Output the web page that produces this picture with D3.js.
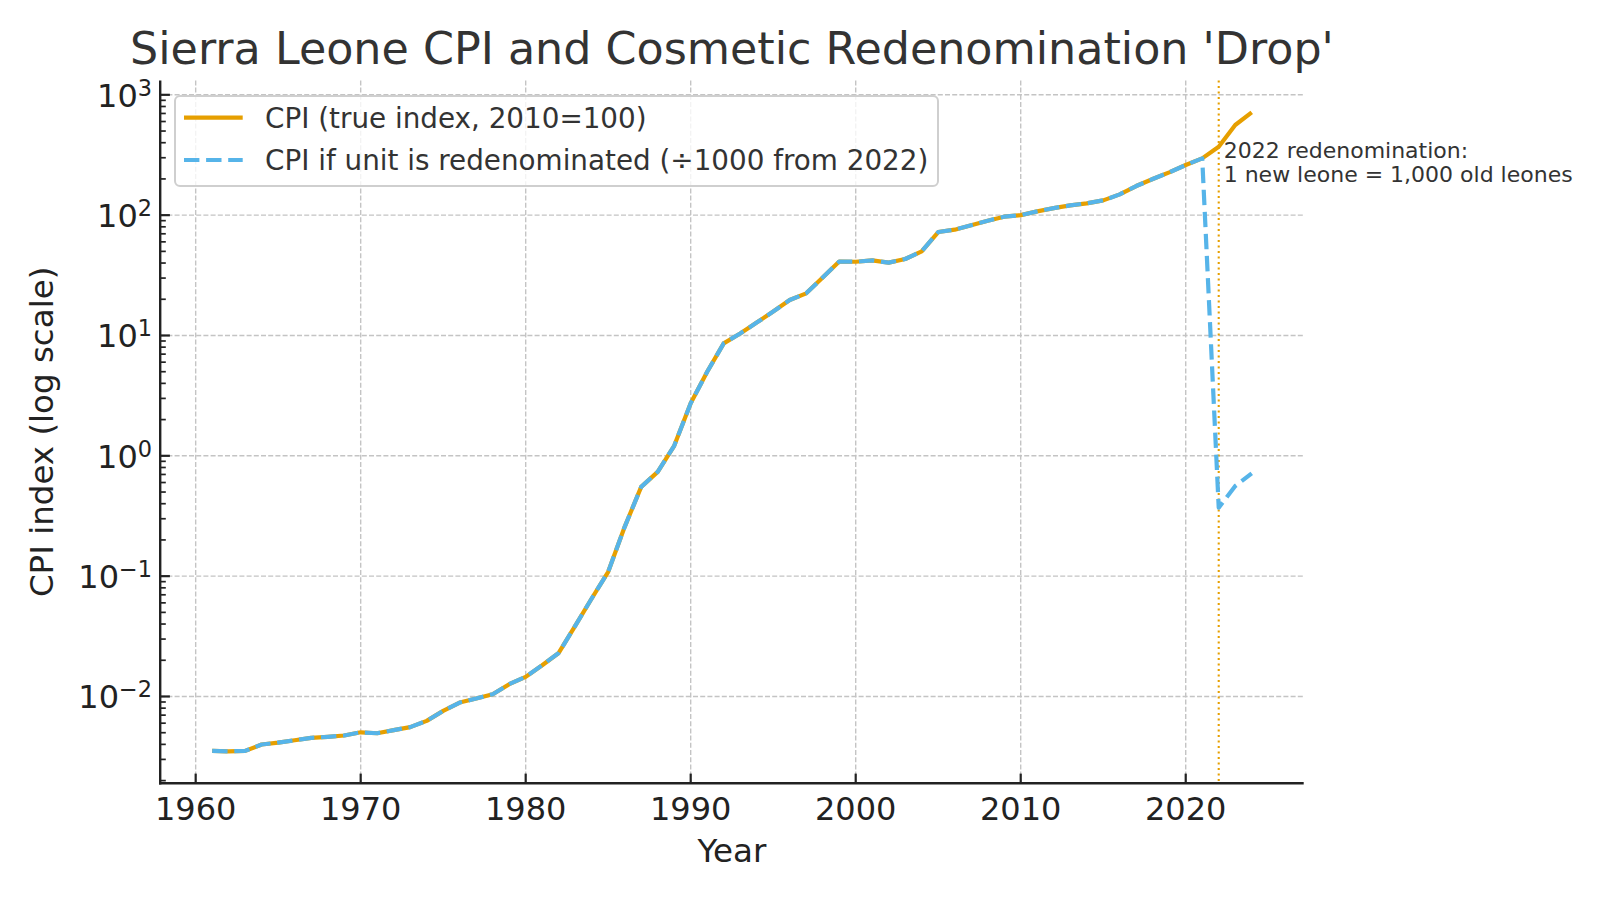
<!DOCTYPE html>
<html><head><meta charset="utf-8">
<script src="https://cdn.jsdelivr.net/npm/d3@7"></script>
<style>
body{margin:0;background:#fff}
svg{display:block}
text{font-family:"DejaVu Sans",sans-serif}
</style>
</head><body>
<svg id="chart" width="1600" height="900"></svg>
<script>
// ---------------- data ----------------
const years = [1961,1962,1963,1964,1965,1966,1967,1968,1969,1970,
  1971,1972,1973,1974,1975,1976,1977,1978,1979,1980,
  1981,1982,1983,1984,1985,1986,1987,1988,1989,1990,
  1991,1992,1993,1994,1995,1996,1997,1998,1999,2000,
  2001,2002,2003,2004,2005,2006,2007,2008,2009,2010,
  2011,2012,2013,2014,2015,2016,2017,2018,2019,2020,
  2021,2022,2023,2024];
const cpiTrue = [0.00353,0.00350,0.00353,0.00399,0.00414,0.00433,0.00453,0.00462,0.00474,0.00504,
  0.00495,0.00525,0.00556,0.00627,0.00759,0.00891,0.00962,0.01045,0.01265,0.01456,
  0.0182,0.0230,0.0386,0.0652,0.1086,0.257,0.552,0.736,1.21,2.73,
  4.99,8.6,10.4,12.8,15.8,19.7,22.4,30.3,41.2,41.0,
  42.1,40.3,43.2,50.0,72.4,75.7,82.3,89.9,97.1,100,
  107.5,114.5,120.6,125.3,132.7,148.8,174.5,199.6,226.8,260.9,
  296.5,370.6,561,715];
const cpiRedenominated = [0.00353,0.00350,0.00353,0.00399,0.00414,0.00433,0.00453,0.00462,0.00474,0.00504,
  0.00495,0.00525,0.00556,0.00627,0.00759,0.00891,0.00962,0.01045,0.01265,0.01456,
  0.0182,0.0230,0.0386,0.0652,0.1086,0.257,0.552,0.736,1.21,2.73,
  4.99,8.6,10.4,12.8,15.8,19.7,22.4,30.3,41.2,41.0,
  42.1,40.3,43.2,50.0,72.4,75.7,82.3,89.9,97.1,100,
  107.5,114.5,120.6,125.3,132.7,148.8,174.5,199.6,226.8,260.9,
  296.5,0.3706,0.561,0.715];
const xTickValues = [1960,1970,1980,1990,2000,2010,2020];
const yTickExponents = [-2,-1,0,1,2,3];
const titleText = "Sierra Leone CPI and Cosmetic Redenomination 'Drop'";
const xLabelText = "Year";
const yLabelText = "CPI index (log scale)";
const legendLabels = ["CPI (true index, 2010=100)", "CPI if unit is redenominated (÷1000 from 2022)"];
const redenomYear = 2022;
const annotationX = 2022.3;
const annotationY = 296;
const annotationLines = ["2022 redenomination:", "1 new leone = 1,000 old leones"];

// ---------------- layout ----------------
const orange = "#E69F00", blue = "#56B4E9";
const axL = 160.2, axR = 1303.7, axT = 80.4, axB = 783.3;
const svg = d3.select("#chart");

const xExt = d3.extent(years);
const xPad = (xExt[1]-xExt[0])*0.05;
const x = d3.scaleLinear().domain([xExt[0]-xPad, xExt[1]+xPad]).range([axL, axR]);

const allVals = cpiTrue.concat(cpiRedenominated);
const lmin = Math.log10(d3.min(allVals)), lmax = Math.log10(d3.max(allVals));
const lPad = (lmax-lmin)*0.05;
const y = d3.scaleLog().domain([Math.pow(10,lmin-lPad), Math.pow(10,lmax+lPad)]).range([axB, axT]);

// grid
const grid = svg.append("g");
xTickValues.forEach(v=>{
  grid.append("line").attr("x1",x(v)).attr("x2",x(v)).attr("y1",axT).attr("y2",axB)
    .attr("stroke","#c4c4c4").attr("stroke-width",1.4).attr("stroke-dasharray","5,2.2");
});
yTickExponents.forEach(e=>{
  const v = Math.pow(10,e);
  grid.append("line").attr("x1",axL).attr("x2",axR).attr("y1",y(v)).attr("y2",y(v))
    .attr("stroke","#c4c4c4").attr("stroke-width",1.4).attr("stroke-dasharray","5,2.2");
});

// redenomination vertical
svg.append("line").attr("x1",x(redenomYear)).attr("x2",x(redenomYear)).attr("y1",axT).attr("y2",axB)
  .attr("stroke",orange).attr("stroke-width",2.1).attr("stroke-dasharray","2.1,3.4");

// lines
const lineGen = d3.line().x(d=>x(d[0])).y(d=>y(d[1]));
svg.append("path").datum(years.map((yr,i)=>[yr,cpiTrue[i]])).attr("d",lineGen)
  .attr("fill","none").attr("stroke",orange).attr("stroke-width",4.2).attr("stroke-linejoin","round");
svg.append("path").datum(years.map((yr,i)=>[yr,cpiRedenominated[i]])).attr("d",lineGen)
  .attr("fill","none").attr("stroke",blue).attr("stroke-width",4.2).attr("stroke-linejoin","round")
  .attr("stroke-dasharray","15.4,6.7");

// spines
const axisCol = "#222";
svg.append("line").attr("x1",axL).attr("x2",axL).attr("y1",axT).attr("y2",axB+1.2).attr("stroke",axisCol).attr("stroke-width",2.4);
svg.append("line").attr("x1",axL-1.2).attr("x2",axR).attr("y1",axB).attr("y2",axB).attr("stroke",axisCol).attr("stroke-width",2.4);

// x ticks
xTickValues.forEach(v=>{
  svg.append("line").attr("x1",x(v)).attr("x2",x(v)).attr("y1",axB).attr("y2",axB-9.7).attr("stroke",axisCol).attr("stroke-width",2.2);
  svg.append("text").attr("x",x(v)).attr("y",820).attr("text-anchor","middle")
    .attr("font-size",32).attr("fill",axisCol).text(v);
});

// y ticks (major + minor)
const dom = y.domain();
for(let e=-4;e<=4;e++){
  for(let k=1;k<=9;k++){
    const v = k*Math.pow(10,e);
    if(v<dom[0]||v>dom[1]) continue;
    const major = k===1;
    svg.append("line").attr("x1",axL).attr("x2",axL+(major?9.7:5.6)).attr("y1",y(v)).attr("y2",y(v))
      .attr("stroke",axisCol).attr("stroke-width",major?2.2:1.7);
  }
}
yTickExponents.forEach(e=>{
  const t = svg.append("text").attr("x",152).attr("y",y(Math.pow(10,e))+12).attr("text-anchor","end")
    .attr("font-size",32).attr("fill",axisCol);
  t.append("tspan").text("10");
  t.append("tspan").attr("dy",-11).attr("font-size",22.4).text(e<0?"\u2212"+Math.abs(e):String(e));
});

// axis labels
svg.append("text").attr("x",(axL+axR)/2).attr("y",862).attr("text-anchor","middle")
  .attr("font-size",32.5).attr("fill",axisCol).text(xLabelText);
svg.append("text").attr("transform",`translate(53,${(axT+axB)/2}) rotate(-90)`).attr("text-anchor","middle")
  .attr("font-size",32.5).attr("fill",axisCol).text(yLabelText);

// title
svg.append("text").attr("x",(axL+axR)/2).attr("y",64).attr("text-anchor","middle")
  .attr("font-size",44.4).attr("fill","#333").text(titleText);

// annotation
annotationLines.forEach((s,i)=>{
  svg.append("text").attr("x",x(annotationX)).attr("y",y(annotationY)+i*24)
    .attr("font-size",22).attr("fill","#333").text(s);
});

// legend
const lg = svg.append("g");
lg.append("rect").attr("x",175).attr("y",96).attr("width",763).attr("height",90).attr("rx",5)
  .attr("fill","#fff").attr("fill-opacity",0.8).attr("stroke","#cfcfcf").attr("stroke-width",2);
const legRows = [{c:orange,dash:null,y:117.7},{c:blue,dash:"15.4,6.7",y:160}];
legRows.forEach((r,i)=>{
  const l = lg.append("line").attr("x1",184).attr("x2",242.7).attr("y1",r.y).attr("y2",r.y)
    .attr("stroke",r.c).attr("stroke-width",4.2);
  if(r.dash) l.attr("stroke-dasharray",r.dash);
  lg.append("text").attr("x",265).attr("y",r.y+9.8).attr("font-size",27.8).attr("fill","#333").text(legendLabels[i]);
});
</script>
</body></html>
